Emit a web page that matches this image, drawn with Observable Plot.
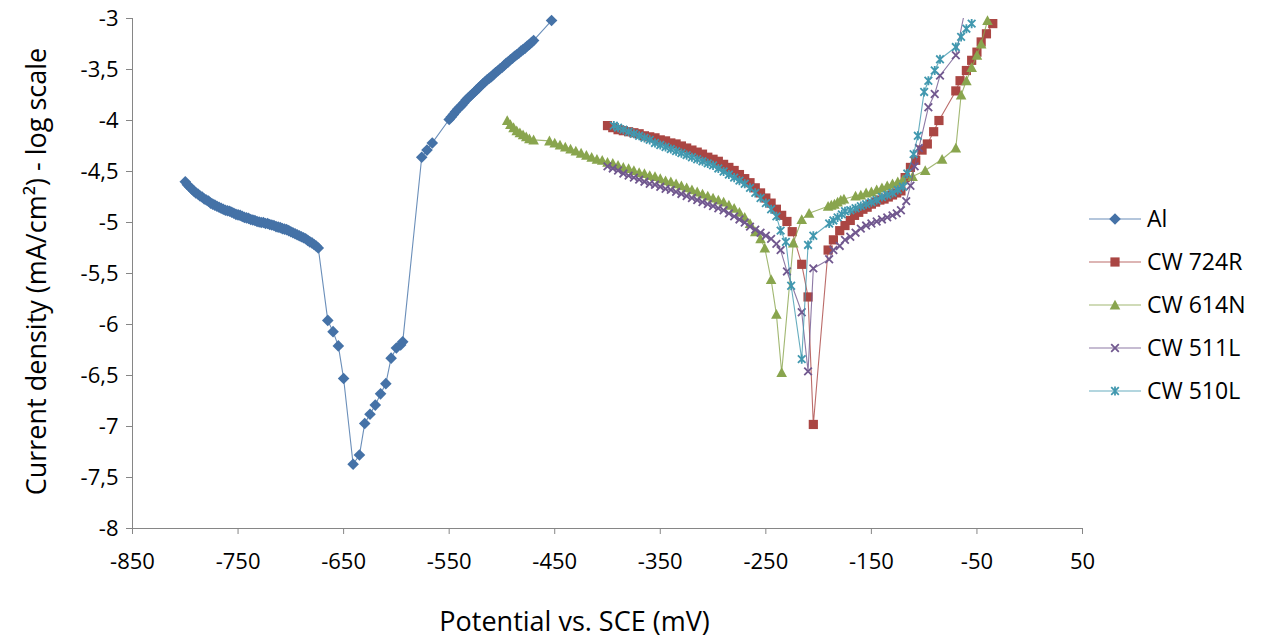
<!DOCTYPE html>
<html>
<head>
<meta charset="utf-8">
<script src="https://cdn.jsdelivr.net/npm/d3@7"></script>
<script src="https://cdn.jsdelivr.net/npm/@observablehq/plot@0.6"></script>
<style>
  html, body { margin: 0; padding: 0; background: #fff; }
  #chart svg { display: block; }
</style>
</head>
<body>
<div id="chart"></div>
<script>
// ---------- data ----------
const xTicks = [-850, -750, -650, -550, -450, -350, -250, -150, -50, 50];
const yTicks = [-8, -7.5, -7, -6.5, -6, -5.5, -5, -4.5, -4, -3.5, -3];
const seriesNames = ["Al", "CW 724R", "CW 614N", "CW 511L", "CW 510L"];
const xTitle = "Potential vs. SCE (mV)";
const yTitle = "Current density (mA/cm²) - log scale";

const alPts = [
  [-800,-4.60],[-798,-4.63],[-796,-4.65],[-794,-4.67],[-792,-4.69],[-790,-4.71],[-788,-4.72],[-786,-4.74],
  [-784,-4.75],[-782,-4.77],[-780,-4.78],[-778,-4.79],[-776,-4.81],[-774,-4.82],[-772,-4.83],[-770,-4.84],
  [-768,-4.85],[-766,-4.86],[-764,-4.87],[-762,-4.88],[-760,-4.885],[-758,-4.89],[-756,-4.90],[-754,-4.91],
  [-752,-4.92],[-750,-4.925],[-748,-4.93],[-746,-4.94],[-744,-4.95],[-742,-4.955],[-740,-4.96],[-738,-4.97],
  [-736,-4.975],[-734,-4.98],[-732,-4.99],[-730,-4.995],[-728,-5.00],[-726,-5.00],[-724,-5.01],[-722,-5.01],
  [-720,-5.02],[-718,-5.025],[-716,-5.03],[-714,-5.04],[-712,-5.045],[-710,-5.05],[-708,-5.06],[-706,-5.065],
  [-704,-5.07],[-702,-5.08],[-700,-5.09],[-698,-5.10],[-696,-5.11],[-694,-5.12],[-692,-5.13],[-690,-5.14],
  [-688,-5.15],[-686,-5.16],[-684,-5.175],[-682,-5.19],[-680,-5.20],[-678,-5.215],[-676,-5.23],[-674,-5.25],
  [-665,-5.96],[-660,-6.07],[-655,-6.21],[-650,-6.53],[-641,-7.37],[-635,-7.28],[-630,-6.97],[-625,-6.88],
  [-620,-6.79],[-615,-6.68],[-610,-6.58],[-605,-6.33],[-600,-6.23],[-596,-6.20],[-594,-6.17],
  [-576,-4.36],[-571,-4.29],[-566,-4.22],
  [-550,-3.99],[-548,-3.965],[-546,-3.94],[-544,-3.915],[-542,-3.89],[-540,-3.87],[-538,-3.85],[-536,-3.825],
  [-534,-3.80],[-532,-3.78],[-530,-3.76],[-528,-3.74],[-526,-3.72],[-524,-3.70],[-522,-3.68],[-520,-3.66],
  [-518,-3.64],[-516,-3.62],[-514,-3.60],[-512,-3.585],[-510,-3.57],[-508,-3.55],[-506,-3.53],[-504,-3.515],
  [-502,-3.495],[-500,-3.48],[-498,-3.46],[-496,-3.44],[-494,-3.425],[-492,-3.405],[-490,-3.39],[-488,-3.37],
  [-486,-3.355],[-484,-3.34],[-482,-3.32],[-480,-3.305],[-478,-3.29],[-476,-3.27],[-474,-3.255],[-472,-3.235],
  [-470,-3.215],[-453,-3.02]
];

const cw724R = [
  [-400,-4.05],[-395,-4.07],[-390,-4.09],[-385,-4.10],[-380,-4.11],[-375,-4.12],[-370,-4.13],[-365,-4.15],
  [-360,-4.16],[-355,-4.17],[-350,-4.19],[-345,-4.20],[-340,-4.22],[-335,-4.23],[-330,-4.25],[-325,-4.27],
  [-320,-4.29],[-315,-4.31],[-310,-4.33],[-305,-4.36],[-300,-4.38],[-295,-4.40],[-290,-4.43],[-285,-4.46],
  [-280,-4.49],[-275,-4.53],[-270,-4.57],[-265,-4.61],[-260,-4.66],[-255,-4.71],[-250,-4.76],[-245,-4.81],
  [-240,-4.87],[-235,-4.93],[-230,-4.99],[-225,-5.09],[-216,-5.41],[-210,-5.73],[-205,-6.98],
  [-191,-5.27],[-186,-5.17],[-180,-5.08],[-175,-5.03],[-170,-4.98],[-166,-4.93],[-162,-4.90],[-158,-4.87],
  [-154,-4.85],[-150,-4.82],[-146,-4.80],[-142,-4.78],[-138,-4.77],[-134,-4.75],[-130,-4.73],[-126,-4.71],
  [-122,-4.69],[-118,-4.56],[-113,-4.46],[-108,-4.39],[-102,-4.29],[-97,-4.23],[-91,-4.11],[-86,-4.00],
  [-70,-3.71],[-66,-3.61],[-60,-3.51],[-55,-3.41],[-50,-3.33],[-46,-3.23],[-41,-3.15],[-35,-3.05]
];

const cw614N = [
  [-495,-4.00],[-492,-4.04],[-489,-4.07],[-486,-4.10],[-483,-4.12],[-480,-4.14],[-477,-4.16],[-474,-4.18],
  [-470,-4.19],[-455,-4.20],[-450,-4.22],[-445,-4.24],[-440,-4.26],[-435,-4.28],[-430,-4.30],[-425,-4.32],
  [-420,-4.34],[-415,-4.36],[-410,-4.38],[-405,-4.39],[-400,-4.41],[-395,-4.42],[-390,-4.44],[-385,-4.46],
  [-380,-4.47],[-375,-4.49],[-370,-4.51],[-365,-4.52],[-360,-4.54],[-355,-4.55],[-350,-4.57],[-345,-4.59],
  [-340,-4.60],[-335,-4.62],[-330,-4.64],[-325,-4.66],[-320,-4.68],[-315,-4.70],[-310,-4.72],[-305,-4.74],
  [-300,-4.76],[-295,-4.78],[-290,-4.80],[-285,-4.83],[-280,-4.86],[-275,-4.90],[-270,-4.95],[-265,-5.01],
  [-260,-5.09],[-255,-5.16],[-251,-5.25],[-245,-5.56],[-240,-5.90],[-235,-6.47],
  [-224,-5.20],[-216,-4.97],[-209,-4.91],[-191,-4.84],[-188,-4.83],[-185,-4.82],[-182,-4.80],[-179,-4.78],
  [-176,-4.77],[-165,-4.74],[-160,-4.73],[-155,-4.71],[-150,-4.70],[-145,-4.68],[-140,-4.66],[-135,-4.64],
  [-130,-4.62],[-125,-4.60],[-120,-4.58],[-111,-4.55],[-99,-4.49],[-83,-4.38],[-70,-4.27],
  [-65,-3.75],[-60,-3.61],[-55,-3.48],[-50,-3.36],[-46,-3.25],[-40,-3.02]
];

const cw511L = [
  [-400,-4.45],[-395,-4.47],[-390,-4.49],[-385,-4.52],[-380,-4.54],[-375,-4.56],[-370,-4.58],[-365,-4.60],
  [-360,-4.62],[-355,-4.63],[-350,-4.65],[-345,-4.67],[-340,-4.68],[-335,-4.70],[-330,-4.72],[-325,-4.74],
  [-320,-4.76],[-315,-4.78],[-310,-4.80],[-305,-4.82],[-300,-4.84],[-295,-4.86],[-290,-4.88],[-285,-4.91],
  [-280,-4.94],[-275,-4.97],[-270,-5.00],[-265,-5.04],[-260,-5.07],[-255,-5.10],[-250,-5.13],[-245,-5.16],
  [-240,-5.21],[-236,-5.27],[-230,-5.48],[-216,-5.88],[-210,-6.46],[-205,-5.45],
  [-190,-5.36],[-186,-5.27],[-180,-5.23],[-175,-5.17],[-170,-5.14],[-165,-5.10],[-160,-5.06],[-155,-5.03],
  [-150,-5.01],[-145,-4.99],[-140,-4.97],[-135,-4.95],[-130,-4.93],[-126,-4.91],[-122,-4.88],[-117,-4.79],
  [-113,-4.64],[-109,-4.45],[-105,-4.27],[-96,-3.87],[-90,-3.74],[-85,-3.56],[-70,-3.36],[-60,-2.85]
];

const cw510L = [
  [-394,-4.05],[-390,-4.07],[-385,-4.09],[-380,-4.11],[-375,-4.13],[-370,-4.15],[-365,-4.17],[-360,-4.19],
  [-355,-4.22],[-350,-4.24],[-345,-4.26],[-340,-4.28],[-335,-4.30],[-330,-4.32],[-325,-4.34],[-320,-4.36],
  [-315,-4.38],[-310,-4.40],[-305,-4.42],[-300,-4.44],[-295,-4.47],[-290,-4.50],[-285,-4.53],[-280,-4.56],
  [-275,-4.59],[-270,-4.62],[-265,-4.66],[-260,-4.71],[-255,-4.76],[-250,-4.81],[-245,-4.87],[-240,-4.94],
  [-236,-5.08],[-231,-5.19],[-226,-5.62],[-216,-6.34],[-210,-5.22],[-205,-5.13],
  [-190,-5.01],[-186,-4.98],[-182,-4.95],[-178,-4.92],[-175,-4.89],[-170,-4.88],[-165,-4.86],[-160,-4.84],
  [-155,-4.82],[-150,-4.80],[-145,-4.78],[-140,-4.75],[-135,-4.73],[-130,-4.71],[-125,-4.68],[-120,-4.65],
  [-116,-4.52],[-110,-4.33],[-106,-4.15],[-100,-3.72],[-96,-3.61],[-90,-3.51],[-85,-3.40],
  [-70,-3.28],[-65,-3.18],[-60,-3.10],[-55,-3.05]
];

// ---------- styles ----------
const colors = ["#4572A7", "#AA4643", "#89A54E", "#71588F", "#4198AF"];
const FONT = "'Open Sans', sans-serif";

function sym(drawFn) { return { draw(ctx, size) { drawFn(ctx, Math.sqrt(size / Math.PI)); } }; }
const diamond = sym((c, h) => { c.moveTo(0, -h); c.lineTo(h, 0); c.lineTo(0, h); c.lineTo(-h, 0); c.closePath(); });
const square = sym((c, h) => { c.rect(-h, -h, 2 * h, 2 * h); });
const triangle = sym((c, h) => { c.moveTo(0, -h); c.lineTo(h, h * 0.85); c.lineTo(-h, h * 0.85); c.closePath(); });
const times = sym((c, h) => { c.moveTo(-h, -h); c.lineTo(h, h); c.moveTo(-h, h); c.lineTo(h, -h); });
const star = sym((c, h) => { c.moveTo(-h, -h); c.lineTo(h, h); c.moveTo(-h, h); c.lineTo(h, -h); c.moveTo(0, -h * 1.2); c.lineTo(0, h * 1.2); });

const specs = [
  { name: seriesNames[0], pts: alPts,  color: colors[0], symbol: diamond,  r: 5.8, filled: true },
  { name: seriesNames[1], pts: cw724R, color: colors[1], symbol: square,   r: 4.6, filled: true },
  { name: seriesNames[2], pts: cw614N, color: colors[2], symbol: triangle, r: 5.3, filled: true },
  { name: seriesNames[3], pts: cw511L, color: colors[3], symbol: times,    r: 3.8, filled: false },
  { name: seriesNames[4], pts: cw510L, color: colors[4], symbol: star,     r: 3.8, filled: false }
];

const fmt = d => String(d).replace(".", ",");

const marks = [
  Plot.ruleX([-850], { stroke: "#868686", strokeWidth: 1 }),
  Plot.ruleY([-8], { stroke: "#868686", strokeWidth: 1 }),
  Plot.axisX({ ticks: xTicks, tickFormat: fmt, tickSize: 6, tickPadding: 19, fontSize: 22, stroke: "#868686", fill: "#000", label: null }),
  Plot.axisY({ ticks: yTicks, tickFormat: fmt, tickSize: 6, tickPadding: 8, fontSize: 22, stroke: "#868686", fill: "#000", label: null }),
  Plot.text([xTitle], { text: d => d, frameAnchor: "bottom", textAnchor: "middle", dx: -33, dy: 94, fontSize: 27, fill: "#000", lineAnchor: "middle" }),
  Plot.text([yTitle], { text: d => d, frameAnchor: "left", textAnchor: "middle", rotate: -90, dx: -95, dy: -2, fontSize: 27, fill: "#000", lineAnchor: "middle" })
];

for (const s of specs) {
  const rows = s.pts.map(([x, y]) => ({ x, y, series: s.name }));
  marks.push(Plot.line(rows, { x: "x", y: "y", stroke: s.color, strokeWidth: 1.1, strokeOpacity: 0.8, clip: true }));
  const visible = rows.filter(d => d.y <= -3);
  if (s.filled) {
    marks.push(Plot.dot(visible, { x: "x", y: "y", symbol: s.symbol, r: s.r, fill: s.color, stroke: "none" }));
  } else {
    marks.push(Plot.dot(visible, { x: "x", y: "y", symbol: s.symbol, r: s.r, fill: "none", stroke: s.color, strokeWidth: 1.8 }));
  }
}

const chart = Plot.plot({
  width: 1261,
  height: 643,
  marginLeft: 132,
  marginRight: 179,
  marginTop: 18,
  marginBottom: 115,
  style: { fontFamily: FONT, background: "#fff", color: "#000" },
  x: { domain: [-850, 50] },
  y: { domain: [-8, -3] },
  marks
});

// ---------- legend (inside the svg, right side) ----------
const svg = d3.select(chart);
const lg = svg.append("g").attr("font-family", FONT).attr("font-size", 23).attr("text-anchor", "start");
specs.forEach((s, i) => {
  const y = 219 + i * 43;
  lg.append("line").attr("x1", 1089).attr("x2", 1141).attr("y1", y).attr("y2", y)
    .attr("stroke", s.color).attr("stroke-width", 1.1).attr("stroke-opacity", 0.8);
  const size = Math.PI * s.r * s.r;
  lg.append("path").attr("transform", `translate(1115,${y})`)
    .attr("d", d3.symbol(s.symbol, size)())
    .attr("fill", s.filled ? s.color : "none")
    .attr("stroke", s.filled ? "none" : s.color)
    .attr("stroke-width", s.filled ? 0 : 1.8);
  lg.append("text").attr("x", 1147).attr("y", y).attr("dy", "0.35em").attr("fill", "#000").text(s.name);
});

document.getElementById("chart").appendChild(chart);
</script>
</body>
</html>
